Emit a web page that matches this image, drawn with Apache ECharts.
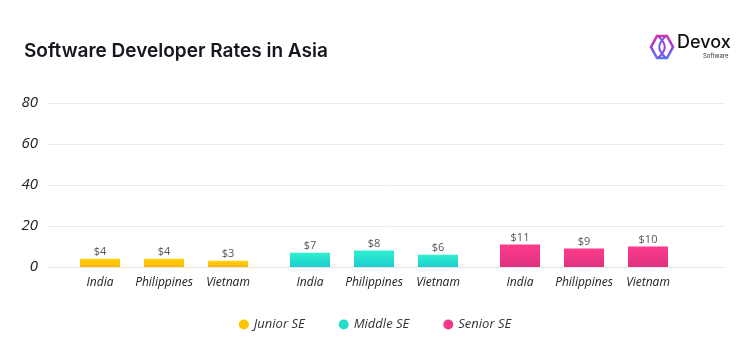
<!DOCTYPE html>
<html>
<head>
<meta charset="utf-8">
<script src="https://cdn.jsdelivr.net/npm/echarts@6/dist/echarts.min.js"></script>
<style>html,body{margin:0;padding:0;background:#fff}#c{width:750px;height:363px}</style>
</head>
<body>
<div id="c"></div>
<script>
const titleText = 'Software Developer Rates in Asia';
const countries = ['India', 'Philippines', 'Vietnam'];
const levels = ['Junior SE', 'Middle SE', 'Senior SE'];
const juniorRates = [4, 4, 3];
const middleRates = [7, 8, 6];
const seniorRates = [11, 9, 10];
const yTicks = [0, 20, 40, 60, 80];

const ratesByLevel = [juniorRates, middleRates, seniorRates];
const solidColors = ['#FFC300', '#25DCCB', '#F0378A'];
const grads = [
  ['#FFD20A', '#FFB700'],
  ['#30F0CF', '#1BCDCF'],
  ['#FF3B8B', '#DE3282']
].map(([a, b]) => new echarts.graphic.LinearGradient(0, 0, 0, 1, [{offset: 0, color: a}, {offset: 1, color: b}]));

const labelFont = '"Open Sans", sans-serif';
const series = [];
countries.forEach((c, ci) => {
  series.push({
    type: 'bar', name: c, stack: c, xAxisIndex: 1, yAxisIndex: 1,
    barWidth: 40, barGap: '60%',
    data: levels.map((l, li) => ({value: ratesByLevel[li][ci], itemStyle: {color: grads[li]}})),
    label: {show: true, position: 'bottom', distance: 10, formatter: () => c,
      fontFamily: labelFont, fontStyle: 'italic', fontSize: 12, color: '#222'},
    emphasis: {disabled: true}, silent: true
  });
  series.push({
    type: 'bar', name: c + '-value', stack: c, xAxisIndex: 1, yAxisIndex: 1,
    barWidth: 40, barGap: '60%',
    data: levels.map(() => 0),
    label: {show: true, position: 'top', distance: 1,
      formatter: p => '$' + ratesByLevel[p.dataIndex][ci],
      fontFamily: labelFont, fontSize: 11, color: '#555'},
    emphasis: {disabled: true}, silent: true
  });
});
levels.forEach((l, li) => {
  series.push({type: 'line', name: l, data: [], xAxisIndex: 1, yAxisIndex: 1,
    itemStyle: {color: solidColors[li]}, lineStyle: {color: solidColors[li]}});
});

const chart = echarts.init(document.getElementById('c'), null, {renderer: 'canvas'});
chart.setOption({
  animation: false,
  backgroundColor: '#fff',
  title: {
    text: titleText, left: 19, top: 37,
    textStyle: {fontFamily: 'Inter, sans-serif', fontWeight: 600, fontSize: 19, color: '#16161f'}
  },
  legend: {
    data: levels, left: 'center', top: 313, icon: 'circle', itemWidth: 10, itemHeight: 10,
    itemGap: 34,
    textStyle: {fontFamily: labelFont, fontStyle: 'italic', fontSize: 13, color: '#333'}
  },
  grid: [
    {left: 48, right: 25, top: 103, bottom: 96},
    {left: 59, right: 61, top: 103, bottom: 96}
  ],
  xAxis: [
    {type: 'category', gridIndex: 0, data: [''], axisTick: {show: false}, axisLabel: {show: false},
      axisLine: {lineStyle: {color: '#e6e6e6'}}},
    {type: 'category', gridIndex: 1, data: levels, show: false}
  ],
  yAxis: [
    {type: 'value', gridIndex: 0, min: yTicks[0], max: yTicks[yTicks.length - 1], interval: yTicks[1] - yTicks[0],
      axisLine: {show: false}, axisTick: {show: false},
      axisLabel: {margin: 10, fontFamily: labelFont, fontStyle: 'italic', fontSize: 15, color: '#222'},
      splitLine: {lineStyle: {color: '#ebebeb'}}},
    {type: 'value', gridIndex: 1, min: yTicks[0], max: yTicks[yTicks.length - 1], show: false, splitLine: {show: false}}
  ],
  series: series,
  graphic: [
    {type: 'polygon', shape: {points: [[657, 36], [667, 36], [673, 47], [667, 58], [657, 58], [651, 47]]},
      style: {fill: 'none', lineWidth: 2.6, stroke: new echarts.graphic.LinearGradient(0, 0, 0, 1, [{offset: 0, color: '#E6309A'}, {offset: 0.5, color: '#9B3FE0'}, {offset: 1, color: '#3D8BF5'}])}},
    {type: 'bezierCurve', shape: {x1: 658, y1: 36, cpx1: 667, cpy1: 44, cpx2: 667, cpy2: 50, x2: 658, y2: 58},
      style: {fill: 'none', lineWidth: 2, stroke: '#A03ED8'}},
    {type: 'bezierCurve', shape: {x1: 666, y1: 36, cpx1: 657, cpy1: 44, cpx2: 657, cpy2: 50, x2: 666, y2: 58},
      style: {fill: 'none', lineWidth: 2, stroke: '#6A5CE8'}},
    {type: 'text', left: 677, top: 34, style: {text: 'Devox', font: '500 18px Inter, sans-serif', fill: '#111'}},
    {type: 'text', left: 703, top: 53, style: {text: 'Software', font: '6px Inter, sans-serif', fill: '#333'}}
  ]
});
</script>
</body>
</html>
